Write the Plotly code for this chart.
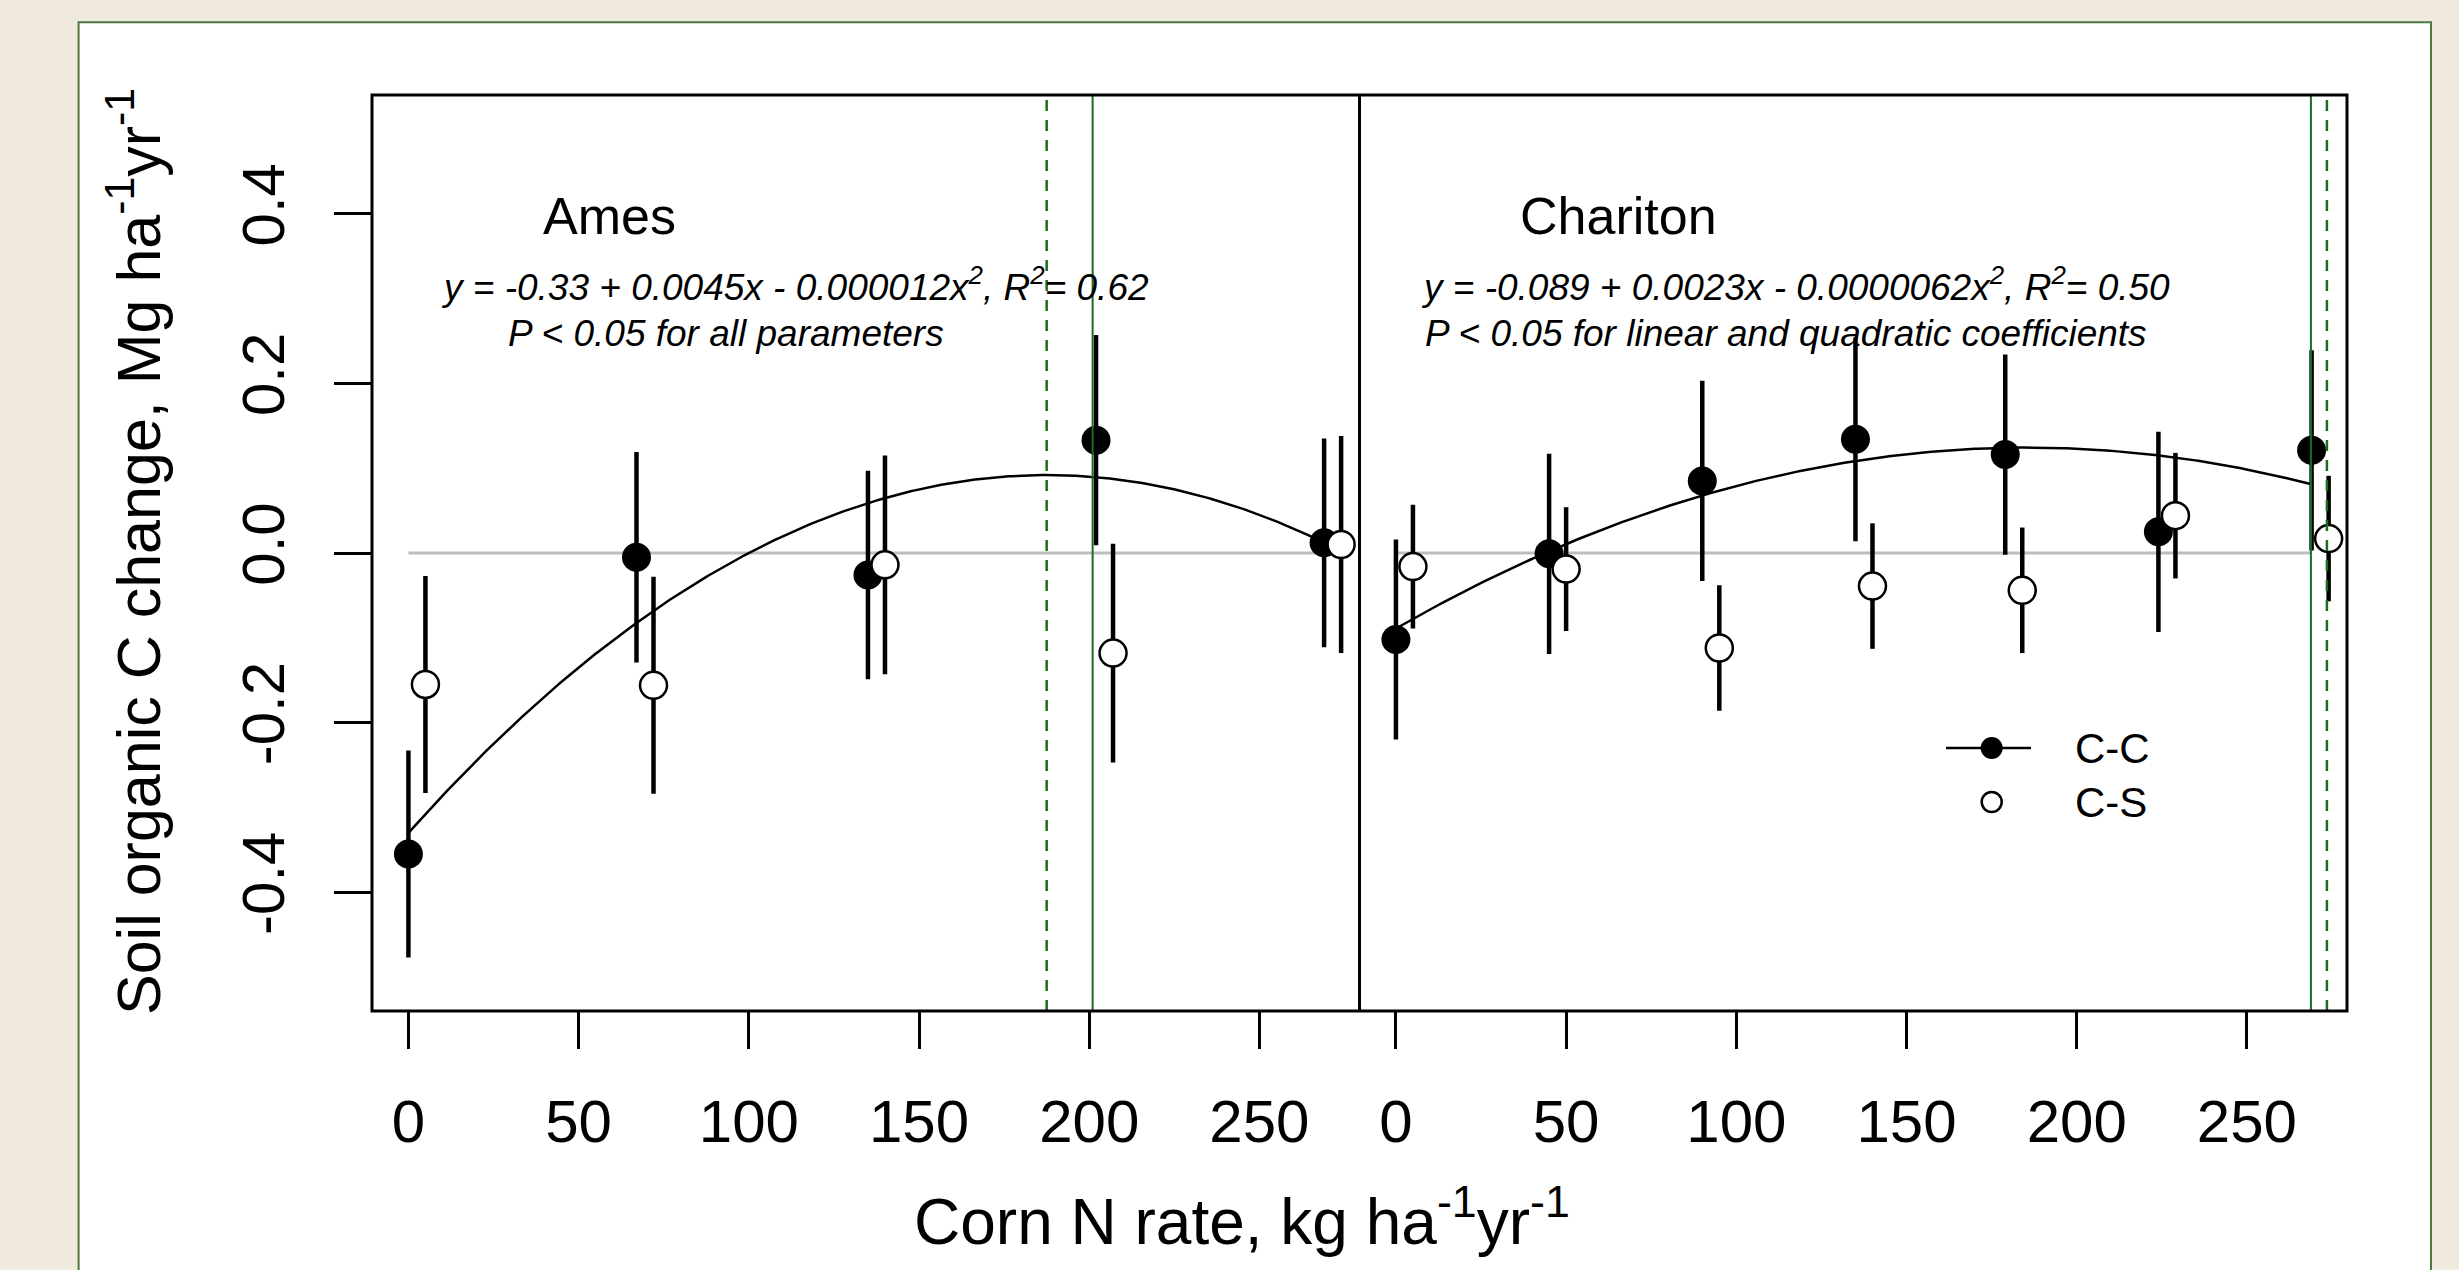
import numpy as np
import plotly.graph_objects as go

# ---------------- data ----------------
# Ames
ames_cc_n = [0, 67, 135, 202, 269]
ames_cc_y = [-0.355, -0.005, -0.026, 0.133, 0.012]
ames_cc_se = [0.122, 0.124, 0.123, 0.124, 0.123]
ames_cs_n = [5, 72, 140, 207, 274]
ames_cs_y = [-0.155, -0.156, -0.014, -0.118, 0.010]
ames_cs_se = [0.128, 0.128, 0.129, 0.129, 0.128]
ames_coef = [-0.33, 0.0045, -0.000012]
ames_vlines_dash = [187.5]
ames_vlines_solid = [201]

# Chariton
char_cc_n = [0, 45, 90, 135, 179, 224, 269]
char_cc_y = [-0.102, -0.001, 0.085, 0.134, 0.116, 0.025, 0.121]
char_cc_se = [0.118, 0.118, 0.118, 0.120, 0.118, 0.118, 0.118]
char_cs_n = [5, 50, 95, 140, 184, 229, 274]
char_cs_y = [-0.016, -0.019, -0.112, -0.039, -0.044, 0.044, 0.017]
char_cs_se = [0.073, 0.073, 0.074, 0.074, 0.074, 0.074, 0.074]
char_coef = [-0.089, 0.0023, -0.0000062]
char_vlines_dash = [273.5]
char_vlines_solid = [268.8]

x_ticks = [0, 50, 100, 150, 200, 250]
y_ticks = [-0.4, -0.2, 0.0, 0.2, 0.4]
y_ticktext = ["-0.4", "-0.2", "0.0", "0.2", "0.4"]

legend_names = ["C-C", "C-S"]

ames_label = "Ames"
ames_eq = "y = -0.33 + 0.0045x - 0.000012x<sup>2</sup>, R<sup>2</sup>= 0.62"
ames_p = "P < 0.05 for all parameters"
char_label = "Chariton"
char_eq = "y = -0.089 + 0.0023x - 0.0000062x<sup>2</sup>, R<sup>2</sup>= 0.50"
char_p = "P < 0.05 for linear and quadratic coefficients"

# ---------------- styling ----------------
FONT = "Arial, 'Liberation Sans', sans-serif"
BEIGE = "#F0EADE"
FRAME_GREEN = "#4E7A3E"
LINE_GREEN = "#1E6B1E"
GRAY = "#BEBEBE"
XR = [-10.7, 279.4]
YR = [-0.54, 0.54]

W, H = 2459, 1270
ML, MR, MT, MB = 372, 112, 95, 259
PW, PH = W - ML - MR, H - MT - MB


def px_x(px):
    return (px - ML) / PW


def px_y(py):
    return (H - MB - py) / PH


fig = go.Figure()


def add_panel(xa, cc_n, cc_y, cc_se, cs_n, cs_y, cs_se, coef):
    # fitted quadratic drawn from the printed coefficients
    xs = np.linspace(min(cc_n), max(cc_n), 300)
    ys = coef[0] + coef[1] * xs + coef[2] * xs ** 2
    fig.add_trace(go.Scatter(x=xs, y=ys, mode="lines", xaxis=xa, yaxis="y",
                             line=dict(color="black", width=2.5),
                             showlegend=False, hoverinfo="skip"))
    fig.add_trace(go.Scatter(x=cc_n, y=cc_y, mode="markers", xaxis=xa, yaxis="y",
                             name=legend_names[0], showlegend=False,
                             error_y=dict(type="data", array=cc_se, visible=True,
                                          thickness=4.5, width=0, color="black"),
                             marker=dict(color="black", size=29, line=dict(width=0))))
    fig.add_trace(go.Scatter(x=cs_n, y=cs_y, mode="markers", xaxis=xa, yaxis="y",
                             name=legend_names[1], showlegend=False,
                             error_y=dict(type="data", array=cs_se, visible=True,
                                          thickness=4.5, width=0, color="black"),
                             marker=dict(color="white", size=27,
                                         line=dict(color="black", width=2.5))))


add_panel("x", ames_cc_n, ames_cc_y, ames_cc_se, ames_cs_n, ames_cs_y, ames_cs_se, ames_coef)
add_panel("x2", char_cc_n, char_cc_y, char_cc_se, char_cs_n, char_cs_y, char_cs_se, char_coef)

shapes = []
# white card with green frame behind everything
shapes.append(dict(type="rect", xref="paper", yref="paper",
                   x0=px_x(78.6), x1=px_x(2431), y0=px_y(1400), y1=px_y(22.3),
                   fillcolor="white", line=dict(color=FRAME_GREEN, width=2), layer="below"))
# zero reference lines
for xa, n in (("x", ames_cc_n), ("x2", char_cc_n)):
    shapes.append(dict(type="line", xref=xa, yref="y", x0=min(n), x1=max(n), y0=0, y1=0,
                       line=dict(color=GRAY, width=3), layer="below"))
# green reference N rates
for xa, vs in (("x", ames_vlines_dash), ("x2", char_vlines_dash)):
    for v in vs:
        shapes.append(dict(type="line", xref=xa, yref="paper", x0=v, x1=v, y0=0, y1=1,
                           line=dict(color=LINE_GREEN, width=2.5, dash="11px,9px")))
for xa, vs in (("x", ames_vlines_solid), ("x2", char_vlines_solid)):
    for v in vs:
        shapes.append(dict(type="line", xref=xa, yref="paper", x0=v, x1=v, y0=0, y1=1,
                           line=dict(color=LINE_GREEN, width=2)))
# plot box and panel divider
shapes.append(dict(type="rect", xref="paper", yref="paper", x0=0, x1=1, y0=0, y1=1,
                   line=dict(color="black", width=3)))
shapes.append(dict(type="line", xref="paper", yref="paper", x0=0.5, x1=0.5, y0=0, y1=1,
                   line=dict(color="black", width=3)))

# key (drawn like the original: line through filled point, open point)
LEG_X0, LEG_X1, LEG_XM, LEG_XT = 1946, 2031, 1991.7, 2073
LEG_Y = [748, 802]
shapes.append(dict(type="line", xref="paper", yref="paper",
                   x0=px_x(LEG_X0), x1=px_x(LEG_X1), y0=px_y(LEG_Y[0]), y1=px_y(LEG_Y[0]),
                   line=dict(color="black", width=2.5)))
shapes.append(dict(type="circle", xref="paper", yref="paper", xsizemode="pixel",
                   ysizemode="pixel", xanchor=px_x(LEG_XM), yanchor=px_y(LEG_Y[0]),
                   x0=-11, x1=11, y0=-11, y1=11, fillcolor="black",
                   line=dict(color="black", width=0)))
shapes.append(dict(type="circle", xref="paper", yref="paper", xsizemode="pixel",
                   ysizemode="pixel", xanchor=px_x(LEG_XM), yanchor=px_y(LEG_Y[1]),
                   x0=-10, x1=10, y0=-10, y1=10, fillcolor="white",
                   line=dict(color="black", width=2.5)))

annotations = []
for name, ly in zip(legend_names, LEG_Y):
    annotations.append(dict(text=name, xref="paper", yref="paper", x=px_x(LEG_XT),
                            y=px_y(ly), showarrow=False, xanchor="left", yanchor="middle",
                            font=dict(family=FONT, size=42, color="black")))
for xa, lab, lx in (("x", ames_label, 59), ("x2", char_label, 65.4)):
    annotations.append(dict(text=lab, xref=xa, yref="y", x=lx, y=0.397, showarrow=False,
                            font=dict(family=FONT, size=52, color="black"),
                            xanchor="center", yanchor="middle"))
for xa, eq, ex in (("x", ames_eq, 113.7), ("x2", char_eq, 117.4)):
    annotations.append(dict(text="<i>" + eq + "</i>", xref=xa, yref="y", x=ex, y=0.317,
                            showarrow=False, font=dict(family=FONT, size=37, color="black"),
                            xanchor="center", yanchor="middle"))
for xa, pt, px in (("x", ames_p, 93.3), ("x2", char_p, 114.5)):
    annotations.append(dict(text="<i>" + pt + "</i>", xref=xa, yref="y", x=px, y=0.2585,
                            showarrow=False, font=dict(family=FONT, size=37, color="black"),
                            xanchor="center", yanchor="middle"))
# axis titles
annotations.append(dict(text="Corn N rate, kg ha<sup>-1</sup>yr<sup>-1</sup>",
                        xref="paper", yref="paper", x=px_x(1242), y=px_y(1217),
                        showarrow=False, font=dict(family=FONT, size=64, color="black"),
                        xanchor="center", yanchor="middle"))
annotations.append(dict(text="Soil organic C change, Mg ha<sup>-1</sup>yr<sup>-1</sup>",
                        xref="paper", yref="paper", textangle=-90,
                        x=px_x(134), y=px_y(552),
                        showarrow=False, font=dict(family=FONT, size=61, color="black"),
                        xanchor="center", yanchor="middle"))

axis_common = dict(range=XR, tickvals=x_ticks, ticks="outside", ticklen=37, tickwidth=3,
                   tickcolor="black", showline=False, showgrid=False, zeroline=False,
                   tickfont=dict(family=FONT, size=60, color="black"),
                   ticklabelstandoff=21)

fig.update_layout(
    width=W, height=H,
    margin=dict(l=ML, r=MR, t=MT, b=MB, pad=0),
    paper_bgcolor=BEIGE, plot_bgcolor="white",
    font=dict(family=FONT, color="black"),
    xaxis=dict(domain=[0, 0.5], anchor="y", **axis_common),
    xaxis2=dict(domain=[0.5, 1], anchor="y", **axis_common),
    yaxis=dict(range=YR, tickvals=y_ticks, ticktext=y_ticktext, tickangle=-90,
               ticks="outside", ticklen=37, tickwidth=3, tickcolor="black",
               showline=False, showgrid=False, zeroline=False,
               tickfont=dict(family=FONT, size=60, color="black"),
               ticklabelstandoff=26),
    shapes=shapes, annotations=annotations,
    showlegend=False,
)

fig.write_html("out.html",
               config={"displayModeBar": False},
               post_script="document.body.style.margin='0px';"
                           "document.documentElement.style.overflow='hidden';")
